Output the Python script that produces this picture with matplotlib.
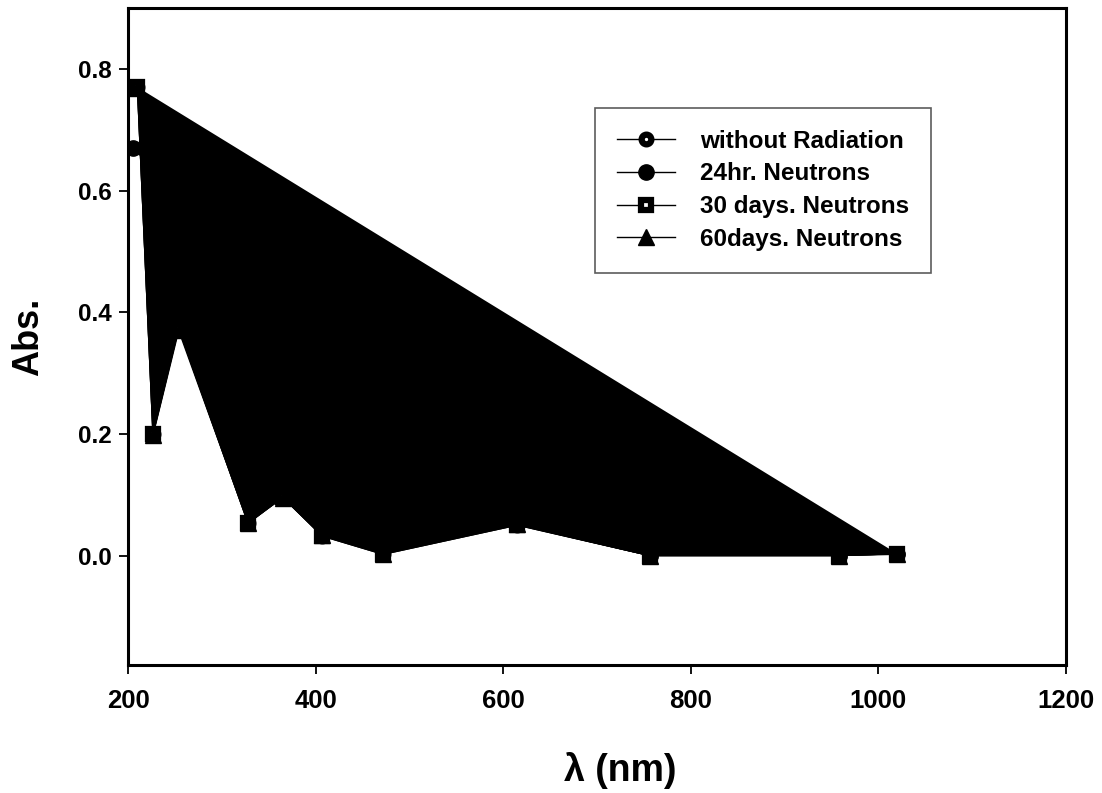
import matplotlib
matplotlib.use("Agg")
import matplotlib.pyplot as plt

plt.rcParams['font.family'] = ['Liberation Sans', 'DejaVu Sans']
plt.rcParams['font.weight'] = 'bold'

# wavelength (nm) and absorbance
wl_0 = [210, 226.6, 254, 328, 365, 407, 472, 615, 756, 958, 1020]
abs_0 = [0.77, 0.20, 0.374, 0.053, 0.096, 0.032, 0.002, 0.050, 0.0, 0.0, 0.003]

wl_24 = [205, 615, 756, 958, 1020]
abs_24 = [0.67, 0.051, 0.0, 0.0, 0.002]

wl_30 = [210, 226.6, 254, 328, 365, 407, 472, 615, 756, 958, 1020]
abs_30 = [0.77, 0.20, 0.374, 0.053, 0.096, 0.032, 0.002, 0.050, 0.0, 0.0, 0.003]

wl_60 = [210, 226.6, 254, 328, 365, 407, 472, 615, 756, 958, 1020]
abs_60 = [0.768, 0.198, 0.37, 0.054, 0.095, 0.033, 0.003, 0.051, 0.0, 0.0, 0.003]

labels = ["without Radiation", "24hr. Neutrons", "30 days. Neutrons", "60days. Neutrons"]

fig = plt.figure(figsize=(11.02, 7.93), dpi=100)
ax = fig.add_axes([0.1162, 0.1614, 0.8511, 0.8285])

# the original plot has the 30 days curve filled as a closed area
ax.fill(wl_30, abs_30, color='black', lw=0, zorder=1)

ax.plot(wl_0, abs_0, '-', color='black', lw=1, marker='o', ms=7,
        mfc='white', mec='black', mew=4.5, label=labels[0], zorder=3)
ax.plot(wl_24, abs_24, '-', color='black', lw=1, marker='o', ms=11,
        mfc='black', mec='black', label=labels[1], zorder=3)
ax.plot(wl_30, abs_30, '-', color='black', lw=1, marker='s', ms=7,
        mfc='white', mec='black', mew=4.5, label=labels[2], zorder=3)
ax.plot(wl_60, abs_60, '-', color='black', lw=1, marker='^', ms=12,
        mfc='black', mec='black', label=labels[3], zorder=3)

ax.set_xlim(200, 1200)
ax.set_ylim(-0.18, 0.9)
ax.set_xticks([200, 400, 600, 800, 1000, 1200])
ax.set_yticks([0.0, 0.2, 0.4, 0.6, 0.8])
ax.set_yticklabels(["0.0", "0.2", "0.4", "0.6", "0.8"])

for sp in ax.spines.values():
    sp.set_linewidth(2.2)
ax.tick_params(direction='out', length=6.5, width=1.3)
ax.tick_params(axis='x', labelsize=18.5, pad=11)
ax.tick_params(axis='y', labelsize=17.5, pad=5)
for t in ax.get_xticklabels() + ax.get_yticklabels():
    t.set_fontweight('bold')

ax.set_xlabel("λ (nm)", fontsize=27, fontweight='bold')
ax.xaxis.set_label_coords(0.525, -0.132)
ax.set_ylabel("Abs.", fontsize=26, fontweight='bold')
ax.yaxis.set_label_coords(-0.087, 0.5)

leg = ax.legend(loc='upper left', bbox_to_anchor=(0.498, 0.848),
                fontsize=17.5, frameon=True, fancybox=False,
                borderaxespad=0, handlelength=2.4, labelspacing=0.4,
                borderpad=0.9, handletextpad=1.0)
leg.get_frame().set_edgecolor('#333333')
leg.get_frame().set_linewidth(1.2)
for t in leg.get_texts():
    t.set_fontweight('bold')

fig.savefig("out.png", dpi=100)
